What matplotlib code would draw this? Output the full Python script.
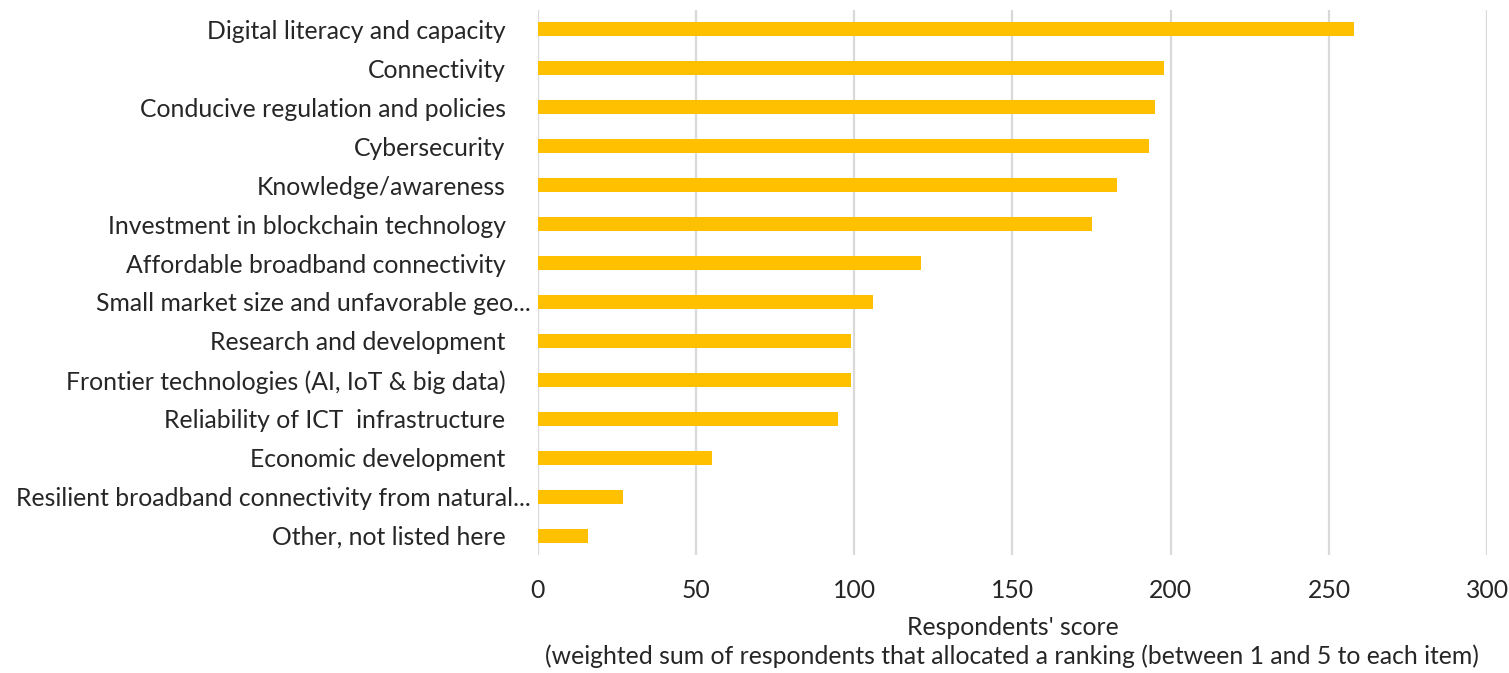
import matplotlib
matplotlib.use("Agg")
import matplotlib.pyplot as plt
from matplotlib.transforms import ScaledTranslation

categories = [
    "Digital literacy and capacity",
    "Connectivity",
    "Conducive regulation and policies",
    "Cybersecurity",
    "Knowledge/awareness",
    "Investment in blockchain technology",
    "Affordable broadband connectivity",
    "Small market size and unfavorable geo...",
    "Research and development",
    "Frontier technologies (AI, IoT & big data)",
    "Reliability of ICT  infrastructure",
    "Economic development",
    "Resilient broadband connectivity from natural...",
    "Other, not listed here",
]
scores = [258, 198, 195, 193, 183, 175, 121, 106, 99, 99, 95, 55, 27, 16]
x_ticks = [0, 50, 100, 150, 200, 250, 300]

bar_color = "#FFC000"
grid_color = "#D9D9D9"
text_color = "#262626"
fs = 17.8

plt.rcParams["font.family"] = ["Lato", "DejaVu Sans"]

fig = plt.figure(figsize=(15.09, 6.73), dpi=100)
ax = fig.add_axes([0.3562, 0.1753, 0.6294, 0.8098])

ypos = list(range(len(categories)))
ax.barh(ypos, scores, height=0.36, color=bar_color, zorder=3)

ax.set_ylim(len(categories) - 0.5, -0.5)
ax.set_xlim(0, 300)
ax.set_xticks(x_ticks)
ax.set_yticks(ypos)
ax.set_yticklabels(categories)

ax.grid(True, axis="x", color=grid_color, linewidth=1.6, zorder=0)
ax.set_axisbelow(True)
for s in ax.spines.values():
    s.set_visible(False)

ax.tick_params(axis="y", length=0, pad=5, labelsize=fs, labelcolor=text_color)
ax.tick_params(axis="x", length=0, pad=17, labelsize=fs, labelcolor=text_color)

# full labels sit a bit further left than the truncated ones (as in Excel)
shift = ScaledTranslation(-25 / 100, 0, fig.dpi_scale_trans)
for lbl in ax.get_yticklabels():
    if not lbl.get_text().endswith("..."):
        lbl.set_transform(lbl.get_transform() + shift)

ax.set_xlabel(
    "Respondents' score\n(weighted sum of respondents that allocated a ranking (between 1 and 5 to each item)",
    fontsize=fs, color=text_color, labelpad=10, linespacing=1.3,
)

fig.savefig("out.png", dpi=100)
